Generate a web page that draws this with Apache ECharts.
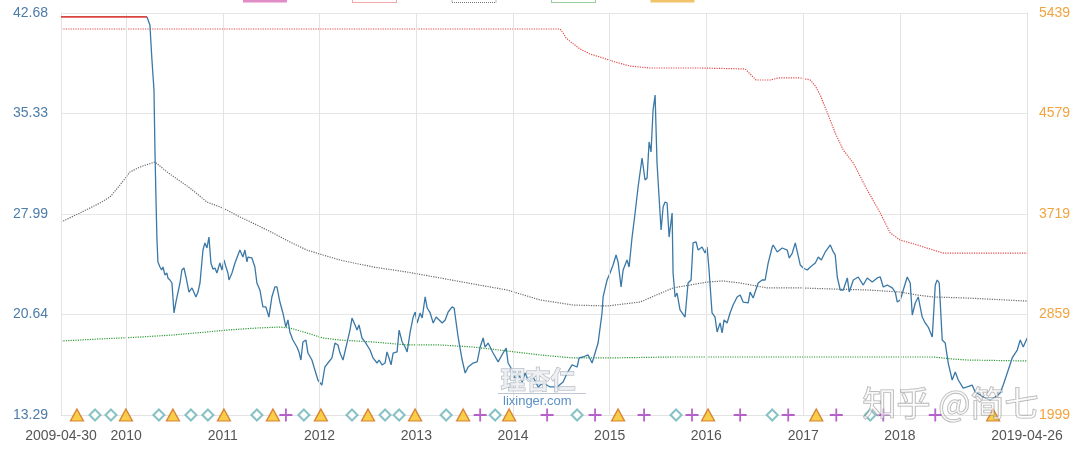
<!DOCTYPE html>
<html><head><meta charset="utf-8">
<script src="https://cdn.jsdelivr.net/npm/echarts@6/dist/echarts.min.js"></script>
<style>html,body{margin:0;padding:0;background:#fff}#c{width:1080px;height:451px}</style>
</head><body><div id="c"></div>
<script>
// ---- data (dates as decimal years, values as PE) ----
const xStart = '2009-04-30';
const xEnd = '2019-04-26';
const yearLabels = ['2010','2011','2012','2013','2014','2015','2016','2017','2018'];
const leftTicks = ['13.29','20.64','27.99','35.33','42.68'];
const rightTicks = ['1999','2859','3719','4579','5439'];

const capSeg = [[2009.326,42.39],[2010.216,42.39]];

const pe = [[2010.216,42.39],[2010.246,41.80],[2010.267,39.24],[2010.288,37.05],[2010.298,32.66],[2010.309,29.01],[2010.319,26.08],[2010.329,24.48],[2010.350,24.11],[2010.367,23.89],[2010.381,24.11],[2010.401,23.53],[2010.422,23.67],[2010.432,23.31],[2010.453,23.16],[2010.474,22.94],[2010.484,23.01],[2010.495,20.75],[2010.515,21.55],[2010.526,21.48],[2010.557,22.94],[2010.577,23.89],[2010.598,24.04],[2010.619,23.38],[2010.629,23.31],[2010.650,22.28],[2010.681,22.58],[2010.691,22.43],[2010.722,21.92],[2010.743,22.28],[2010.764,22.94],[2010.795,25.35],[2010.815,25.87],[2010.836,25.50],[2010.857,26.30],[2010.877,24.40],[2010.898,23.96],[2010.919,24.04],[2010.939,23.67],[2010.970,24.40],[2010.991,23.89],[2011.012,24.62],[2011.033,24.11],[2011.053,23.67],[2011.064,23.16],[2011.095,23.67],[2011.126,24.40],[2011.157,24.99],[2011.177,25.35],[2011.208,24.84],[2011.229,25.35],[2011.250,24.48],[2011.260,24.84],[2011.301,24.77],[2011.332,24.11],[2011.353,22.94],[2011.384,22.43],[2011.415,21.19],[2011.446,21.19],[2011.477,20.45],[2011.508,21.92],[2011.539,22.65],[2011.560,22.65],[2011.591,21.55],[2011.622,20.75],[2011.653,19.72],[2011.674,20.24],[2011.694,19.36],[2011.725,18.77],[2011.767,18.26],[2011.788,17.90],[2011.808,17.31],[2011.829,18.63],[2011.860,18.77],[2011.881,17.82],[2011.922,17.31],[2011.953,16.58],[2011.984,15.85],[2012.025,15.48],[2012.056,16.80],[2012.087,17.09],[2012.129,17.46],[2012.160,18.55],[2012.191,18.41],[2012.212,17.82],[2012.243,17.31],[2012.284,18.55],[2012.315,19.50],[2012.336,20.38],[2012.367,19.87],[2012.388,19.50],[2012.408,19.87],[2012.439,18.92],[2012.470,18.63],[2012.522,18.04],[2012.553,17.46],[2012.594,17.09],[2012.615,17.31],[2012.646,16.95],[2012.677,17.09],[2012.697,17.90],[2012.718,17.46],[2012.739,16.95],[2012.760,17.82],[2012.801,17.90],[2012.822,19.50],[2012.853,18.63],[2012.884,18.26],[2012.905,17.90],[2012.936,19.36],[2012.967,20.45],[2012.988,20.82],[2013.008,20.02],[2013.039,20.75],[2013.060,20.38],[2013.091,21.92],[2013.112,21.11],[2013.143,20.75],[2013.174,20.02],[2013.205,20.45],[2013.225,20.38],[2013.267,20.02],[2013.298,20.24],[2013.329,20.82],[2013.370,21.19],[2013.391,21.11],[2013.432,18.99],[2013.474,17.31],[2013.505,16.36],[2013.536,16.80],[2013.587,17.09],[2013.629,17.17],[2013.660,18.26],[2013.691,18.92],[2013.711,18.26],[2013.742,18.55],[2013.763,18.26],[2013.794,17.82],[2013.846,17.17],[2013.897,17.82],[2013.929,18.19],[2013.949,17.09],[2013.991,16.58],[2014.022,15.85],[2014.053,16.36],[2014.094,15.70],[2014.125,16.36],[2014.156,15.85],[2014.208,16.07],[2014.260,15.34],[2014.311,15.63],[2014.384,15.34],[2014.456,15.34],[2014.518,15.70],[2014.560,16.36],[2014.611,16.95],[2014.663,16.80],[2014.684,17.46],[2014.725,17.53],[2014.777,17.68],[2014.818,17.09],[2014.849,17.82],[2014.880,18.55],[2014.921,20.75],[2014.932,21.92],[2014.973,23.16],[2015.004,23.67],[2015.035,24.26],[2015.066,24.99],[2015.087,24.48],[2015.118,22.65],[2015.139,23.89],[2015.180,24.62],[2015.201,24.11],[2015.232,26.30],[2015.263,28.06],[2015.294,29.96],[2015.335,32.08],[2015.366,30.47],[2015.387,30.62],[2015.408,33.25],[2015.428,32.52],[2015.449,35.59],[2015.470,36.68],[2015.490,31.71],[2015.511,29.23],[2015.532,26.82],[2015.553,28.50],[2015.573,28.86],[2015.594,28.79],[2015.615,26.30],[2015.646,28.06],[2015.656,23.67],[2015.677,21.92],[2015.697,22.21],[2015.728,20.97],[2015.780,20.45],[2015.811,22.94],[2015.842,23.16],[2015.863,25.87],[2015.894,25.94],[2015.915,25.35],[2015.956,25.57],[2015.987,25.13],[2016.008,25.57],[2016.028,23.89],[2016.059,20.75],[2016.090,20.45],[2016.111,19.36],[2016.142,20.02],[2016.163,19.29],[2016.183,20.24],[2016.214,20.02],[2016.245,20.75],[2016.276,21.33],[2016.318,21.92],[2016.349,22.06],[2016.380,21.55],[2016.432,21.48],[2016.452,22.28],[2016.483,21.84],[2016.535,22.94],[2016.576,23.16],[2016.607,23.16],[2016.638,24.40],[2016.680,25.57],[2016.690,25.72],[2016.732,25.21],[2016.752,25.35],[2016.783,25.50],[2016.835,25.35],[2016.856,24.77],[2016.887,25.13],[2016.918,25.87],[2016.938,25.87],[2016.969,24.26],[2017.000,24.04],[2017.042,23.89],[2017.073,24.11],[2017.125,24.40],[2017.156,24.84],[2017.187,24.62],[2017.228,25.21],[2017.280,25.72],[2017.311,25.21],[2017.331,24.99],[2017.352,23.38],[2017.383,22.43],[2017.414,22.43],[2017.456,23.31],[2017.476,22.28],[2017.518,23.16],[2017.569,23.38],[2017.621,22.79],[2017.662,23.31],[2017.714,23.01],[2017.766,23.31],[2017.797,23.38],[2017.828,22.65],[2017.869,22.79],[2017.921,22.58],[2017.952,22.28],[2017.973,21.55],[2018.004,21.70],[2018.035,22.43],[2018.076,23.38],[2018.107,22.94],[2018.128,20.60],[2018.159,21.48],[2018.190,21.92],[2018.231,20.45],[2018.262,20.02],[2018.293,19.72],[2018.335,18.99],[2018.366,22.79],[2018.386,23.16],[2018.407,22.94],[2018.438,18.77],[2018.469,18.55],[2018.500,17.09],[2018.541,15.85],[2018.573,16.43],[2018.604,15.85],[2018.655,15.26],[2018.697,15.34],[2018.748,15.48],[2018.779,14.97],[2018.831,14.75],[2018.883,14.53],[2018.935,14.39],[2018.986,14.61],[2019.038,14.90],[2019.069,15.48],[2019.121,16.58],[2019.162,17.46],[2019.214,18.04],[2019.245,18.77],[2019.276,18.26],[2019.317,18.92]];

const highLine = [[2009.326,41.51],[2014.487,41.51],[2014.518,41.22],[2014.549,40.85],[2014.611,40.49],[2014.694,40.05],[2014.797,39.68],[2014.901,39.46],[2015.056,39.10],[2015.211,38.80],[2015.418,38.66],[2015.935,38.66],[2016.400,38.59],[2016.452,38.22],[2016.514,37.78],[2016.659,37.78],[2016.742,37.93],[2016.969,37.93],[2017.073,37.78],[2017.125,37.34],[2017.176,36.68],[2017.259,35.22],[2017.331,33.91],[2017.414,32.66],[2017.518,31.71],[2017.662,29.74],[2017.797,28.06],[2017.900,26.60],[2018.004,26.08],[2018.180,25.72],[2018.345,25.35],[2018.448,25.13],[2019.317,25.13]];

const midLine = [[2009.326,27.40],[2009.522,28.06],[2009.729,28.79],[2009.833,29.23],[2009.936,30.10],[2010.040,31.06],[2010.143,31.42],[2010.298,31.79],[2010.422,31.06],[2010.660,29.89],[2010.836,28.86],[2011.001,28.42],[2011.177,27.77],[2011.353,27.18],[2011.519,26.60],[2011.694,25.94],[2011.870,25.35],[2012.036,24.99],[2012.212,24.62],[2012.553,24.11],[2012.905,23.74],[2013.246,23.31],[2013.587,22.87],[2013.939,22.43],[2014.280,21.70],[2014.622,21.33],[2014.973,21.26],[2015.315,21.55],[2015.656,22.58],[2016.008,23.01],[2016.173,23.09],[2016.349,22.94],[2016.628,22.58],[2016.969,22.58],[2017.311,22.50],[2017.662,22.43],[2018.004,22.28],[2018.180,22.06],[2018.345,21.92],[2018.697,21.84],[2019.317,21.62]];

const lowLine = [[2009.326,18.70],[2009.729,18.85],[2010.143,18.99],[2010.484,19.14],[2010.836,19.36],[2011.043,19.50],[2011.353,19.65],[2011.591,19.72],[2011.694,19.65],[2011.870,19.29],[2012.036,18.92],[2012.212,18.77],[2012.553,18.63],[2012.905,18.41],[2013.246,18.41],[2013.587,18.26],[2013.939,17.97],[2014.280,17.68],[2014.622,17.46],[2014.973,17.46],[2015.656,17.53],[2016.969,17.53],[2018.345,17.53],[2018.552,17.38],[2018.697,17.31],[2019.317,17.24]];

const triangleDates = [2009.491,2009.998,2010.484,2011.012,2011.519,2012.015,2012.501,2012.987,2013.484,2013.960,2015.087,2016.018,2017.135,2018.965];
const diamondDates = [2009.678,2009.843,2010.339,2010.670,2010.846,2011.353,2011.839,2012.336,2012.677,2012.822,2013.308,2013.815,2014.663,2015.687,2016.680,2017.693];
const plusDates = [2011.653,2013.660,2014.353,2014.849,2015.356,2015.852,2016.349,2016.845,2017.342,2017.828,2018.366];

// ---- helpers ----
function toTs(y){const Y=Math.floor(y);const a=Date.UTC(Y,0,1),b=Date.UTC(Y+1,0,1);return a+(y-Y)*(b-a);}
function dTs(s){const p=s.split('-').map(Number);return Date.UTC(p[0],p[1]-1,p[2]);}
const conv = arr => arr.map(p=>[toTs(p[0]),p[1]]);
const minX = dTs(xStart), maxX = dTs(xEnd);
const yMin = parseFloat(leftTicks[0]), yMax = parseFloat(leftTicks[leftTicks.length-1]);
const yInt = (yMax-yMin)/(leftTicks.length-1);
const rMin = +rightTicks[0], rMax = +rightTicks[rightTicks.length-1];
const baseLine = yMin;
const marks = arr => arr.map(d=>[toTs(d),baseLine]);
const gridLines = [minX].concat(yearLabels.map(y=>Date.UTC(+y,0,1))).concat([maxX]);

const FONT = '"Liberation Sans", Arial, sans-serif';
const chart = echarts.init(document.getElementById('c'));
chart.setOption({
  animation:false,
  backgroundColor:'#fff',
  useUTC:true,
  grid:{left:61,right:53,top:13,bottom:36},
  legend:{
    top:-13,left:243,padding:0,itemWidth:44,itemHeight:15,itemGap:20,
    textStyle:{fontSize:10,color:'#fff'},
    data:[
      {name:'股价上限',icon:'rect',itemStyle:{color:'#e08cc6'}},
      {name:'危险值',icon:'rect',itemStyle:{color:'#fff',borderColor:'#e05050',borderType:'dotted',borderWidth:1}},
      {name:'中位值',icon:'rect',itemStyle:{color:'#fff',borderColor:'#777',borderType:'dotted',borderWidth:1}},
      {name:'机会值',icon:'rect',itemStyle:{color:'#fff',borderColor:'#3a9a3a',borderType:'dotted',borderWidth:1}},
      {name:'沪深300',icon:'rect',itemStyle:{color:'#f2c46a'}}
    ]
  },
  xAxis:{
    type:'time',min:minX,max:maxX,maxInterval:366*86400000,minInterval:365*86400000,
    axisLine:{show:true,lineStyle:{color:'#e3e3e3'}},
    axisTick:{show:false},
    splitLine:{show:false},
    axisLabel:{
      color:'#555',fontSize:14,fontFamily:FONT,margin:14,hideOverlap:false,
      showMinLabel:true,showMaxLabel:true,
      formatter:function(v){
        if(Math.abs(v-minX)<86400000) return xStart;
        if(Math.abs(v-maxX)<86400000) return xEnd;
        const y=String(new Date(v).getUTCFullYear());
        return yearLabels.indexOf(y)>=0 ? y : '';
      }
    }
  },
  yAxis:[{
    type:'value',min:yMin,max:yMax,interval:yInt,position:'left',
    axisLine:{show:true,lineStyle:{color:'#d6d6d6'}},axisTick:{show:false},
    splitLine:{lineStyle:{color:'#e6e6e6'}},
    axisLabel:{color:'#4c7ca8',fontSize:14,fontFamily:FONT,margin:13,
      formatter:function(v){return leftTicks[Math.round((v-yMin)/yInt)]||'';}}
  },{
    type:'value',min:rMin,max:rMax,interval:(rMax-rMin)/(rightTicks.length-1),position:'right',
    axisLine:{show:true,lineStyle:{color:'#d6d6d6'}},axisTick:{show:false},
    splitLine:{show:false},
    axisLabel:{color:'#f0a441',fontSize:14,fontFamily:FONT,margin:12,
      formatter:function(v){return String(Math.round(v));}}
  }],
  series:[
    {name:'grid',type:'line',data:[],silent:true,
      markLine:{silent:true,symbol:'none',label:{show:false},
        lineStyle:{color:'#e3e3e3',type:'solid',width:1},
        data:gridLines.map(t=>({xAxis:t}))}},
    {name:'危险值',type:'line',data:conv(highLine),showSymbol:false,
      lineStyle:{color:'#e04848',width:1.2,type:'dotted'},itemStyle:{color:'#e04848'}},
    {name:'中位值',type:'line',data:conv(midLine),showSymbol:false,
      lineStyle:{color:'#6a6a6a',width:1.2,type:'dotted'},itemStyle:{color:'#6a6a6a'}},
    {name:'机会值',type:'line',data:conv(lowLine),showSymbol:false,
      lineStyle:{color:'#2f9a35',width:1.2,type:'dotted'},itemStyle:{color:'#2f9a35'}},
    {name:'PE',type:'line',data:conv(pe),showSymbol:false,
      lineStyle:{color:'#3a78a6',width:1.3},itemStyle:{color:'#3a78a6'}},
    {name:'股价上限',type:'line',data:conv(capSeg),showSymbol:false,z:10,
      lineStyle:{color:'#db4540',width:1.8},itemStyle:{color:'#db4540'}},
    {name:'沪深300',type:'line',yAxisIndex:1,data:[],itemStyle:{color:'#f2c46a'}},
    {name:'分红',type:'scatter',data:marks(diamondDates),clip:false,z:5,
      symbol:'emptyDiamond',symbolSize:11,itemStyle:{color:'#6ab3b6',borderWidth:1.4}},
    {name:'增发',type:'scatter',data:marks(plusDates),clip:false,z:5,
      symbol:'path://M4.3,0H5.7V4.3H10V5.7H5.7V10H4.3V5.7H0V4.3H4.3Z',symbolSize:13,
      itemStyle:{color:'#a83cc0'}},
    {name:'报告',type:'scatter',data:marks(triangleDates),clip:false,z:6,
      symbol:'triangle',symbolSize:[13,12],itemStyle:{color:'#f6c21e',borderColor:'#cf6a18',borderWidth:1.3}}
  ],
  graphic:[
    {type:'text',left:500,top:366,z:20,style:{text:'理杏仁',font:'bold 25px "Noto Sans CJK SC"',fill:'rgba(235,238,242,0.85)',stroke:'rgba(130,140,155,0.7)',lineWidth:1}},
    {type:'rect',left:498,top:393,z:20,shape:{width:88,height:1},style:{fill:'rgba(150,160,175,0.6)'}},
    {type:'text',left:503,top:395,z:20,style:{text:'lixinger.com',font:'13px "Liberation Sans"',fill:'#5b90c4'}},
    {type:'text',left:862,top:385,z:20,style:{text:'知乎 @简七',font:'34px "Noto Sans CJK SC"',fill:'rgba(255,255,255,0.55)',stroke:'rgba(110,110,110,0.55)',lineWidth:1.2}}
  ]
});
</script></body></html>
